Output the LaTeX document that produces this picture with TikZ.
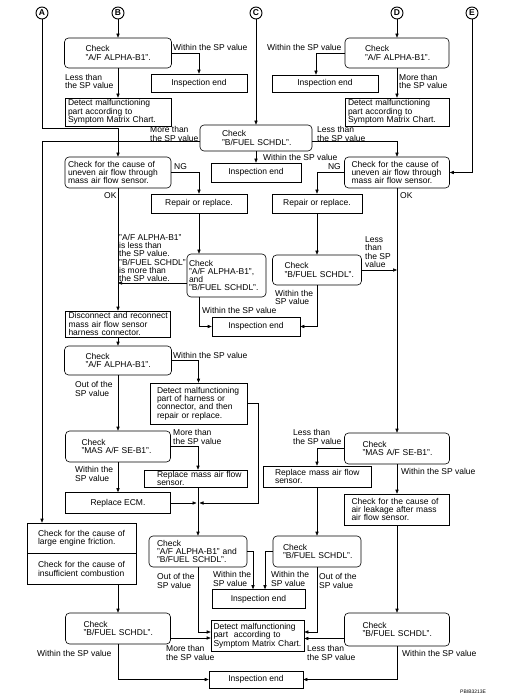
\documentclass[tikz,border=0pt]{standalone}
\usepackage{fontspec}
\setmainfont{Liberation Sans}
\usetikzlibrary{arrows.meta, positioning}
\hfuzz=40pt
\begin{document}
\begin{tikzpicture}[x=1pt, y=-1pt,
    every node/.style={font=\fontsize{8.5}{8.3}\selectfont},
    box/.style={draw, line width=0.6pt, align=left, inner ysep=0pt},
    chk/.style={box, rounded corners=4pt},
    endbox/.style={box, align=center},
    bx/.style 2 args={text width=#1pt-4pt, inner xsep=2pt,
        execute at begin node={\leftskip=#2pt\relax\rightskip=0pt plus 1fil minus 30pt\relax\linepenalty=1000\hyphenpenalty=10000}},
    lbl/.style={anchor=west, inner sep=0pt, align=left},
    letter/.style={draw, circle, line width=0.9pt, inner sep=0pt, minimum size=12pt, font=\fontsize{8.5}{8.5}\selectfont\bfseries},
    arr/.style={-{Triangle[length=4pt, width=3.2pt]}, line width=0.6pt}]
    \useasboundingbox (0,0) rectangle (514,700);

    % Entry letters
    \node[letter] (nA) at (42,13) {A};
    \node[letter] (nB) at (118,13) {B};
    \node[letter] (nC) at (256,13) {C};
    \node[letter] (nD) at (397,13) {D};
    \node[letter] (nE) at (472,13) {E};

    % Top checks
    \node[chk, bx={107}{19}, minimum height=30] (chkB) at (118,53) {Check\\"A/F ALPHA-B1".};
    \node[endbox, minimum width=96, minimum height=18] (endB) at (199,83) {Inspection end};
    \node[box, bx={106}{1}, minimum height=28] (detB) at (118,112) {Detect malfunctioning\\part according to\\Symptom Matrix Chart.};
    \node[chk, bx={104}{18}, minimum height=30] (chkD) at (397,53) {Check\\"A/F ALPHA-B1".};
    \node[endbox, minimum width=106, minimum height=17] (endD) at (325,83.5) {Inspection end};
    \node[box, bx={104}{1}, minimum height=28] (detD) at (397,112) {Detect malfunctioning\\part according to\\Symptom Matrix Chart.};
    \node[chk, bx={112}{20}, minimum height=26] (chkC) at (256,138) {Check\\"B/FUEL SCHDL".};
    \node[endbox, minimum width=90, minimum height=19] (endC) at (256,172.5) {Inspection end};

    % Uneven air flow
    \node[chk, bx={106}{1}, minimum height=31] (unevL) at (118,172.5) {Check for the cause of\\uneven air flow through\\mass air flow sensor.};
    \node[endbox, minimum width=96, minimum height=19] (repL) at (199,203.5) {Repair or replace.};
    \node[chk, bx={105}{5}, minimum height=31] (unevR) at (397,172.5) {Check for the cause of\\uneven air flow through\\mass air flow sensor.};
    \node[endbox, minimum width=90, minimum height=19] (repR) at (317,203.5) {Repair or replace.};

    % Middle
    \node[chk, bx={79}{0}, minimum height=43] (chkAB) at (226.5,275.5) {Check\\"A/F ALPHA-B1",\\and\\"B/FUEL SCHDL".};
    \node[chk, bx={89}{10}, minimum height=30] (chkBR) at (317,270) {Check\\"B/FUEL SCHDL".};
    \node[endbox, minimum width=88, minimum height=19] (endM) at (256,326.5) {Inspection end};
    \node[box, bx={105}{1}, minimum height=26] (disc) at (118,324) {Disconnect and reconnect\\mass air flow sensor\\harness connector.};
    \node[chk, bx={107}{19}, minimum height=29] (chkA2) at (118,360.5) {Check\\"A/F ALPHA-B1".};
    \node[box, bx={97}{5}, minimum height=41] (detH) at (198.5,403.5) {Detect malfunctioning\\part of harness or\\connector, and then\\repair or replace.};
    \node[chk, bx={105}{14}, minimum height=31] (masL) at (118,446.5) {Check\\"MAS A/F SE-B1".};
    \node[box, bx={103}{11}, minimum height=17] (mafL) at (195.5,478.5) {Replace mass air flow\\sensor.};
    \node[endbox, minimum width=105, minimum height=21] (ecm) at (118,503) {Replace ECM.};
    \node[chk, bx={105}{16}, minimum height=31] (masR) at (397,448.5) {Check\\"MAS A/F SE-B1".};
    \node[box, bx={108}{10}, minimum height=21] (mafR) at (317,476.5) {Replace mass air flow\\sensor.};
    \node[box, bx={105}{5}, minimum height=31] (leak) at (397,509.5) {Check for the cause of\\air leakage after mass\\air flow sensor.};

    % Bottom
    \node[box, bx={109}{9}, minimum height=30] (fricA) at (81.5,538) {Check for the cause of\\large engine friction.};
    \node[box, bx={109}{9}, minimum height=31, below=0pt of fricA] (fricB) {Check for the cause of\\insufficient combustion};
    \node[chk, bx={98}{6}, minimum height=31] (abBot) at (198,551.5) {Check\\"A/F ALPHA-B1" and\\"B/FUEL SCHDL".};
    \node[chk, bx={88}{8}, minimum height=31] (chkBM) at (317,551.5) {Check\\"B/FUEL SCHDL".};
    \node[endbox, minimum width=93, minimum height=19] (endBM) at (258.5,599) {Inspection end};
    \node[chk, bx={105}{16}, minimum height=31] (chkBL) at (118,628.5) {Check\\"B/FUEL SCHDL".};
    \node[box, bx={93}{0.5}, minimum height=31] (detBot) at (257.5,635.5) {Detect malfunctioning\\part\ \ according to\\Symptom Matrix Chart.};
    \node[chk, bx={105}{16}, minimum height=33] (chkBRb) at (397,629.5) {Check\\"B/FUEL SCHDL".};
    \node[endbox, minimum width=94, minimum height=17] (endBot) at (256,679.5) {Inspection end};

    % Branch labels
    \node[lbl] (lbB1) at (173,47) {Within the SP value};
    \node[lbl] (lbB2) at (65,81.5) {Less than\\the SP value};
    \node[lbl] (lbD1) at (267,47) {Within the SP value};
    \node[lbl] (lbD2) at (399,81.5) {More than\\the SP value};
    \node[lbl] (lbC1) at (150,134) {More than\\the SP value};
    \node[lbl] (lbC2) at (317,134) {Less than\\the SP value};
    \node[lbl] (lbC3) at (263,157) {Within the SP value};
    \node[lbl] (lbL1) at (174,167) {NG};
    \node[lbl] (lbL2) at (104,196) {OK};
    \node[lbl] (lbL3) at (119,258) {"A/F ALPHA-B1"\\is less than\\the SP value.\\"B/FUEL SCHDL"\\is more than\\the SP value.};
    \node[lbl, anchor=east] (lbR1) at (341,167) {NG};
    \node[lbl] (lbR2) at (400,196) {OK};
    \node[lbl] (lbR3) at (365,252) {Less\\than\\the SP\\value};
    \node[lbl] (lbR4) at (275,297.5) {Within the\\SP value};
    \node[lbl] (lbM1) at (202,310) {Within the SP value};
    \node[lbl] (lbA2) at (173,355) {Within the SP value};
    \node[lbl] (lbA3) at (75,389) {Out of the\\SP value};
    \node[lbl] (lbM2) at (173,437) {More than\\the SP value};
    \node[lbl] (lbM3) at (75,474) {Within the\\SP value};
    \node[lbl] (lbM4) at (293,437) {Less than\\the SP value};
    \node[lbl] (lbM5) at (401,471) {Within the SP value};
    \node[lbl] (lbS1) at (157,581) {Out of the\\SP value};
    \node[lbl] (lbS2) at (213,579) {Within the\\SP value};
    \node[lbl] (lbS3) at (271,579) {Within the\\SP value};
    \node[lbl] (lbS4) at (319,581) {Out of the\\SP value};
    \node[lbl] (lbS5) at (37,653) {Within the SP value};
    \node[lbl] (lbS6) at (166,653) {More than\\the SP value};
    \node[lbl] (lbS7) at (307,653) {Less than\\the SP value};
    \node[lbl] (lbS8) at (402,653) {Within the SP value};
    \node[lbl, font=\fontsize{5}{5}\selectfont] (code) at (460,692) {PBIB3213E};

    % Helper points
    \coordinate (jA) at (118,128);
    \coordinate (jC) at (42,141);
    \coordinate (xM) at (198,0);
    \coordinate (xL) at (118,0);
    \coordinate (jAB) at ([yshift=-7.5pt]chkAB.west);
    \coordinate (dL) at ([yshift=-2.5pt]detBot.west);
    \coordinate (dR) at ([yshift=-3pt]detBot.east);

    % Connectors
    \draw[arr] (nA) |- (jA) -- (unevL);
    \draw[arr] (nB) -- (chkB);
    \draw[arr] (chkB) -| (endB);
    \draw[arr] (chkB) -- (detB);
    \draw[arr] (nD) -- (chkD);
    \draw[arr] (chkD.west) -| ([xshift=-9pt]endD.north);
    \draw[arr] (chkD) -- (detD);
    \draw[arr] (nC) -- (chkC);
    \draw[arr] ([yshift=-3pt]chkC.west) -- (jC) -- (jC |- fricA.north);
    \draw[arr] ([yshift=-3pt]chkC.east) -| (unevR);
    \draw[arr] (chkC) -- (endC);
    \draw[arr] (nE) |- (unevR);
    \draw[arr] (unevL) -| (repL);
    \draw[arr] (unevR) -| (repR);
    \draw[arr] (unevL) -- (disc);
    \draw[arr] (unevR) -- (masR);
    \draw[arr] (repL) -- (repL.south |- chkAB.north);
    \draw[arr] (jAB) -- (jAB -| unevL.south);
    \draw[arr] (repL.south |- chkAB.south) |- (endM);
    \draw[arr] (repR) -- (chkBR);
    \draw[arr] (chkBR) -- (chkBR.east -| unevR.south);
    \draw[arr] (chkBR) |- (endM);
    \draw[arr] (disc) -- (chkA2);
    \draw[arr] (chkA2) -| (detH);
    \draw[arr] (chkA2) -- (masL);
    \draw[arr] (masL) -| (xM |- mafL.north);
    \draw[arr] (masL) -- (ecm);
    \draw[arr, shorten >=1.5pt] (ecm) -- (ecm.east -| xM);
    \draw[arr, shorten >=1.5pt] (detH.east) -- ++(11,0) |- (ecm.east -| xM);
    \draw[arr] (xM |- mafL.south) -- (abBot);
    \draw[arr] (masR) -| (mafR);
    \draw[arr] (masR) -- (leak);
    \draw[arr] (mafR) -- (chkBM);
    \draw[arr] (leak) -- (chkBRb);
    \draw[arr] (abBot) -| ([xshift=-5.5pt]endBM.north);
    \draw[arr] (chkBM) -| ([xshift=6.5pt]endBM.north);
    \draw[arr] (abBot) |- ([yshift=3.5pt]detBot.west);
    \draw[arr] (chkBM) |- ([yshift=3.5pt]detBot.east);
    \draw[arr] (dL -| chkBL.east) -- (dL);
    \draw[arr] (dR -| chkBRb.west) -- (dR);
    \draw[arr] (xL |- fricB.south) -- (chkBL);
    \draw[arr] (chkBL) |- (endBot);
    \draw[arr] (chkBRb) |- (endBot);
\end{tikzpicture}
\end{document}
